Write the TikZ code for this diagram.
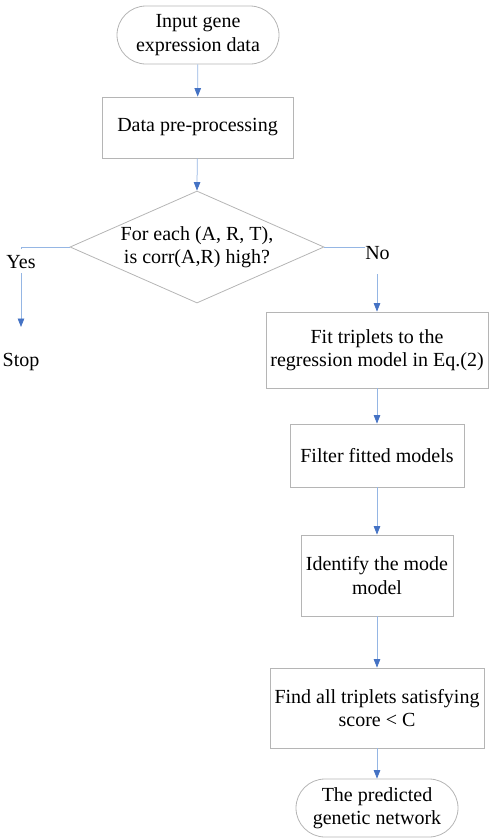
\documentclass[tikz,border=0pt]{standalone}
\usepackage{fontspec}
\setmainfont{Liberation Serif}
\usetikzlibrary{shapes.geometric,shapes.misc,arrows.meta}
\definecolor{boxgray}{HTML}{B5B5B5}
\definecolor{arrline}{HTML}{95B6E4}
\definecolor{arrhead}{HTML}{4472C4}
\tikzset{
  txt/.style={font=\fontsize{20}{23.5}\selectfont, align=center},
  procbox/.style={txt, draw=boxgray, line width=0.8pt, rectangle, inner sep=2pt},
  termbox/.style={txt, draw=boxgray, line width=0.8pt, rounded rectangle, rounded rectangle arc length=180, inner sep=0pt},
  decbox/.style={txt, draw=boxgray, line width=0.8pt, diamond, inner sep=-6pt, shape aspect=2.27},
  flow/.style={draw=arrline, line width=0.75pt, -{Triangle[width=6.5pt,length=8.5pt,color=arrhead]}},
  lbl/.style={txt, fill=white, inner sep=0pt, anchor=base}
}
\begin{document}
\begin{tikzpicture}[x=1pt,y=-1pt]
\useasboundingbox (0,0) rectangle (490,839);
\node[termbox, minimum width=162pt, minimum height=58pt] (start) at (198,35) {Input gene\\expression data};
\node[procbox, minimum width=191pt, minimum height=61pt] (prep) at (197.5,127.5) {Data pre-processing};
\node[decbox, minimum width=254pt, minimum height=112pt] (dec) at (197,247) {For each (A, R, T),\\is corr(A,R) high?};
\node[procbox, minimum width=222pt, minimum height=76pt] (fit) at (377,350) {Fit triplets to the\\regression model in Eq.(2)};
\node[procbox, minimum width=174pt, minimum height=63pt] (filter) at (377,455.5) {Filter fitted models};
\node[procbox, minimum width=152pt, minimum height=81pt] (ident) at (377,575.5) {Identify the mode\\model};
\node[procbox, minimum width=214pt, minimum height=80pt] (find) at (377,708) {Find all triplets satisfying\\score \textless{} C};
\node[termbox, minimum width=162pt, minimum height=58pt] (end) at (377,808) {The predicted\\genetic network};
\node[txt, anchor=base] (stop) at (21,366) {Stop};
\coordinate (stoptip) at (21,327);

\draw[flow] (start) -- (prep);
\draw[flow] (prep) -- (dec.north);
\draw[flow] (dec.west) -| (stoptip);
\draw[flow] (dec.east) -| (fit.north);
\draw[flow] (fit) -- (filter);
\draw[flow] (filter) -- (ident);
\draw[flow] (ident) -- (find);
\draw[flow] (find) -- (end);

\node[lbl, text height=19pt, text depth=5pt] (yes) at (21,268) {Yes};
\node[lbl, text height=13.5pt, text depth=15pt] (no) at (377.5,259) {No};
\end{tikzpicture}
\end{document}
